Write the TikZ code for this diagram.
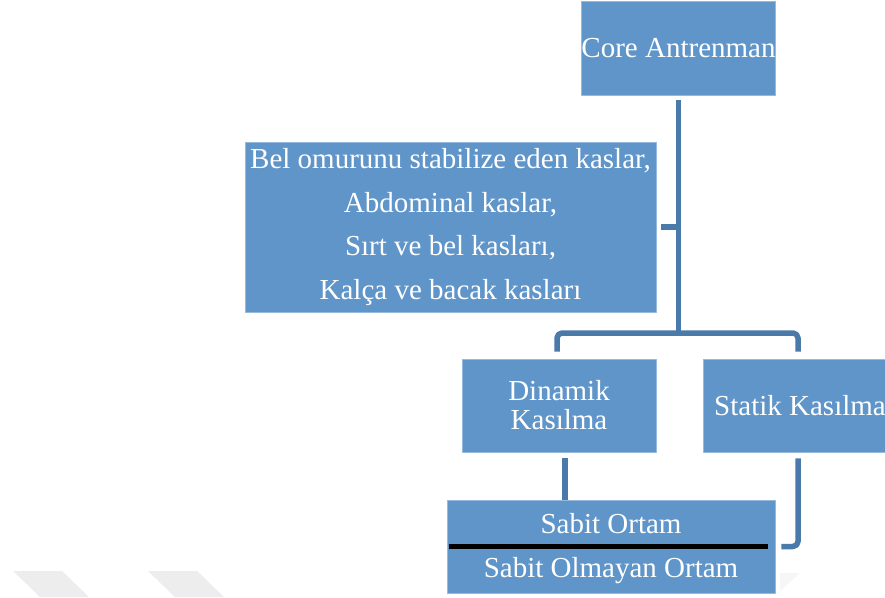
\documentclass[tikz,border=0pt]{standalone}
\usepackage{fontspec}
\setmainfont{Liberation Serif}

\definecolor{boxblue}{RGB}{96,149,201}
\definecolor{boxrim}{RGB}{150,185,222}
\definecolor{linkblue}{RGB}{74,122,170}
\definecolor{ghost}{RGB}{237,237,237}
\definecolor{paleghost}{RGB}{246,246,246}

\begin{document}
\begin{tikzpicture}[x=1pt, y=-1pt, line join=round]

    % one unit is one pixel of the original, y runs downwards
    \tikzset{%
      block/.style    = {fill=boxblue, draw=boxrim, line width=0.8pt, text=white,
                         inner sep=0pt, align=center,
                         font=\fontsize{29}{29}\selectfont},
      blocktext/.style = {text=white, inner sep=0pt, anchor=base,
                         font=\fontsize{29}{29}\selectfont},
      link/.style     = {draw=linkblue, line width=5.5pt, rounded corners=5pt}
    }

    \clip (0,0) rectangle (885,597);
    \fill[white] (0,0) rectangle (885,597);

    % faint marks along the bottom edge
    \foreach \xo in {13,148}{
      \fill[ghost] (\xo,571) -- ++(49,0) -- ++(27,26) -- ++(-49,0) -- cycle;
    }
    \fill[paleghost] (780,573) -- (800,573) -- (780,591) -- cycle;

    \node[block, minimum width=193, minimum height=94] (core) at (678.5,48) {Core Antrenman};
    \node[block, minimum width=411, minimum height=170,
          font=\fontsize{29}{43.5}\selectfont] (kaslar) at (450.5,227)
      {Bel omurunu stabilize eden kaslar,\\ Abdominal kaslar,\\ S\i rt ve bel kaslar\i ,\\ Kal\c{c}a ve bacak kaslar\i};
    \node[block, minimum width=194, minimum height=93] (dinamik) at (559,405.5) {Dinamik\\ Kas\i lma};
    \node[block, minimum width=194, minimum height=93] (statik) at (800,405.5) {Statik Kas\i lma};

    % the two-part box at the bottom
    \node[block, minimum width=328, minimum height=93] (ortam) at (611,546.5) {};
    \node[blocktext] (sabit) at (611,533) {Sabit Ortam};
    \node[blocktext] (olmayan) at (611,577) {Sabit Olmayan Ortam};
    \draw[line width=5pt] ([xshift=2pt]ortam.west) -- ([xshift=-7pt]ortam.east);

    % connectors
    \coordinate (fork) at (678.5,333);
    \draw[link] ([yshift=-5pt]core.south) -- (fork);
    \draw[link] ([xshift=5pt]kaslar.east) -- (kaslar.east -| fork);
    \draw[link] ([xshift=-2pt,yshift=7pt]dinamik.north) |- (fork) -| ([xshift=-2pt,yshift=7pt]statik.north);

    \coordinate (dinfoot) at ([xshift=6pt,yshift=-6pt]dinamik.south);
    \draw[link] (dinfoot) -- (dinfoot |- ortam.north);
    \draw[link] ([xshift=-2pt,yshift=-6pt]statik.south) |- ([xshift=6pt]ortam.east);

\end{tikzpicture}
\end{document}
